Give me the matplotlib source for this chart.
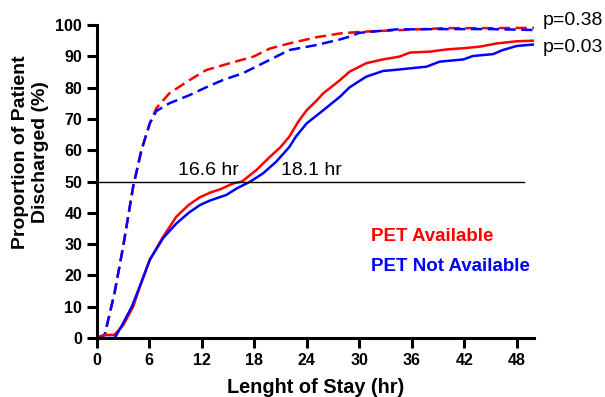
import matplotlib
matplotlib.use('Agg')
import matplotlib.pyplot as plt

plt.rcParams['font.family'] = ['Liberation Sans', 'DejaVu Sans']

# PET available, solid (red)
red_x = [0, 1, 2, 3, 4.15, 5, 6.06, 7.6, 9.1, 10.5, 11.8, 13, 14.1, 15.6, 16.6, 18.25, 19.8, 21, 22, 23, 24, 25, 25.9, 27.8, 28.9, 30.8, 32.7, 34.6, 35.8, 38.1, 40, 42, 43.8, 45.7, 48, 50]
red_y = [0, 1, 1, 4, 10, 17, 25, 32.4, 38.8, 42.5, 45, 46.5, 47.5, 49.4, 50, 53.7, 57.9, 61, 64.3, 69, 72.8, 75.5, 78.2, 82.4, 85.1, 87.8, 89, 89.9, 91.2, 91.5, 92.2, 92.6, 93.1, 94.1, 94.8, 95]
# PET not available, solid (blue)
blue_x = [0, 1, 2.06, 3, 4, 4.9, 6.06, 7.6, 9.1, 10.5, 11.8, 13, 14.8, 16, 17.5, 19, 20.5, 22, 22.8, 24, 25.9, 27.8, 28.9, 30.8, 32.7, 34.6, 37.7, 39.2, 41.9, 43, 45.3, 46.4, 48, 50]
blue_y = [0, 0, 0, 4.7, 10, 16.4, 25, 32, 36.6, 40, 42.5, 44, 45.7, 47.8, 49.9, 52.6, 56.3, 61, 64.5, 68.6, 72.8, 77.1, 80.1, 83.5, 85.3, 85.8, 86.7, 88.3, 89, 90.1, 90.7, 92, 93.3, 93.8]
# PET available, dashed (red)
red_dx = [0, 0.9, 2, 3, 4.15, 5.1, 6.06, 6.8, 8.3, 10.6, 12.5, 15.2, 17.9, 19.8, 22, 25.1, 27.8, 30, 34, 40, 45, 50]
red_dy = [0, 1, 14, 29, 48.3, 60, 68.6, 73.4, 78.2, 82.4, 85.6, 87.8, 89.9, 92.5, 94.1, 96.1, 97.3, 97.8, 98.3, 99, 99, 99.1]
# PET not available, dashed (blue)
blue_dx = [0, 0.9, 2, 3, 4.15, 5.1, 6.06, 6.8, 8.3, 10.6, 12.5, 14.4, 16.7, 19, 22, 25.1, 27.8, 28.9, 30, 34.3, 40, 45, 50]
blue_dy = [0, 1, 14, 29, 48.3, 60, 68.6, 72.5, 75, 77.6, 80.1, 82.4, 84.6, 87.8, 92, 93.6, 95.4, 96.3, 97.5, 98.6, 98.7, 98.7, 98.4]

xticks = [0, 6, 12, 18, 24, 30, 36, 42, 48]
yticks = list(range(0, 101, 10))
medians = [(16.6, 9.3), (18.1, 21.1)]
pvals = ['p=0.38', 'p=0.03']

fig = plt.figure(figsize=(6.05, 3.97), dpi=100)
ax = fig.add_axes([0.160, 0.1486, 0.723, 0.7884])

dash = (0, (4.5, 2.2))
ax.plot(red_dx, red_dy, color='#ff0000', lw=1.8, ls=dash)
ax.plot(blue_dx, blue_dy, color='#0000ff', lw=1.8, ls=dash)
ax.plot(red_x, red_y, color='#ff0000', lw=1.8)
ax.plot(blue_x, blue_y, color='#0000ff', lw=1.8)

ax.plot([0, 48.8], [50, 50], color='black', lw=1)
for val, xpos in medians:
    ax.text(xpos, 50.8, '%.1f hr' % val, fontsize=14, ha='left', va='bottom')

ax.text(51, 101.5, pvals[0], fontsize=14, ha='left', va='center', clip_on=False)
ax.text(51, 92.7, pvals[1], fontsize=14, ha='left', va='center', clip_on=False)

ax.text(31.4, 32.3, 'PET Available', color='#ff0000', fontsize=13.5, fontweight='bold', va='center')
ax.text(31.4, 22.8, 'PET Not Available', color='#0000ff', fontsize=13.5, fontweight='bold', va='center')

ax.set_xlim(0, 50)
ax.set_ylim(0, 100)
ax.set_xticks(xticks)
ax.set_yticks(yticks)
ax.spines['top'].set_visible(False)
ax.spines['right'].set_visible(False)
ax.spines['left'].set_linewidth(2.2)
ax.spines['bottom'].set_linewidth(2.2)
ax.tick_params(width=2.2, length=7, labelsize=11.5)
for lab in ax.get_xticklabels() + ax.get_yticklabels():
    lab.set_fontweight('bold')

ax.set_xlabel('Lenght of Stay (hr)', fontsize=14.3, fontweight='bold')
ax.set_ylabel('Proportion of Patient\nDischarged (%)', fontsize=14, fontweight='bold')
ax.xaxis.set_label_coords(0.5, -0.157)
ax.xaxis.label.set_va('center')
ax.yaxis.set_label_coords(-0.151, 0.594)
ax.yaxis.label.set_va('center')

fig.savefig('out.png', dpi=100)
